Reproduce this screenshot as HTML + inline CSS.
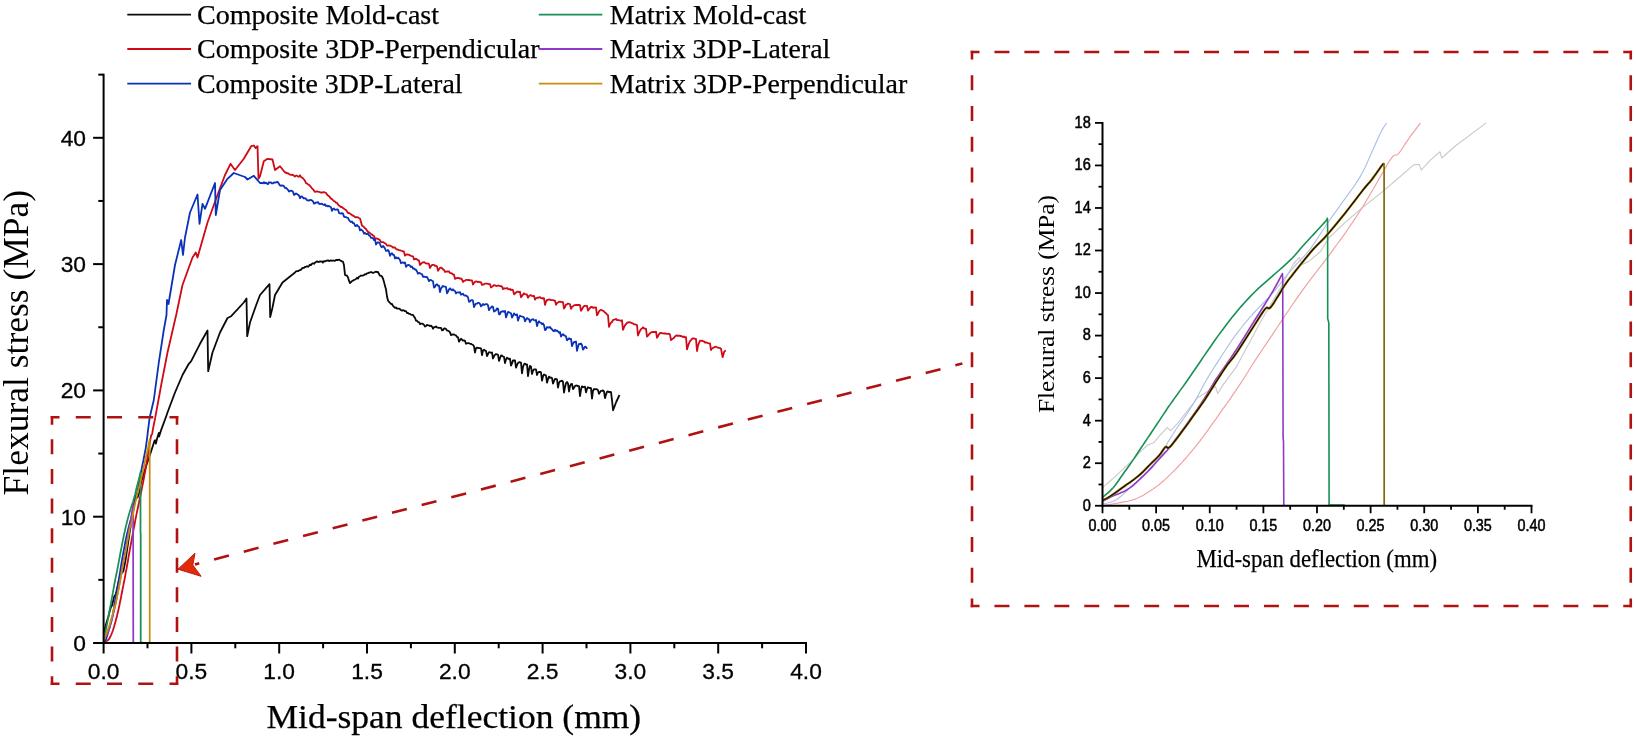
<!DOCTYPE html>
<html lang="en">
<head>
<meta charset="utf-8">
<title>Flexural stress vs mid-span deflection</title>
<style>
html,body{margin:0;padding:0;background:#fff;}
body{width:1636px;height:741px;overflow:hidden;}
svg{display:block;filter:blur(0.4px);}
text{fill:#000;}
</style>
</head>
<body>
<svg width="1636" height="741" viewBox="0 0 1636 741">
<rect x="0" y="0" width="1636" height="741" fill="#ffffff"/>
<g id="main-curves"><polyline points="103.6,632.6 103.8,631.6 105.4,626.7 106.1,624.1 108.4,616.5 109.9,610.5 111.1,606.8 112.0,605.6 112.9,601.8 114.2,596.6 115.8,594.2 119.1,579.1 122.1,572.3 123.3,571.5 125.5,560.4 129.7,532.2 132.6,514.8 134.8,499.8 135.8,495.5 137.5,497.6 139.3,492.2 140.7,483.7 143.3,475.0 146.2,465.8 149.2,457.2 152.2,448.0 154.6,440.4 155.5,440.4 155.8,443.7 157.3,437.8 158.9,432.8 159.1,436.5 161.3,429.6 166.4,415.7 167.5,412.5 175.0,392.5 182.5,375.0 188.8,363.8 191.2,361.2 200.0,343.8 207.5,330.5 208.2,371.2 212.5,352.5 220.0,332.5 227.5,318.0 231.2,316.2 243.8,302.5 246.5,298.5 247.2,336.2 250.0,322.5 256.2,305.0 260.0,295.0 269.5,284.2 270.2,317.0 272.5,307.5 275.0,295.0 282.5,282.5 295.0,272.5 296.0,271.4 297.0,271.1 298.0,271.1 299.0,270.6 300.0,270.0 301.0,269.8 302.0,268.4 303.0,267.9 304.0,267.8 305.0,267.0 306.0,266.8 307.0,266.2 308.0,266.8 309.0,265.9 310.0,264.7 311.0,265.1 312.0,263.8 313.0,263.2 314.0,263.8 315.0,262.7 316.0,261.9 317.0,261.3 318.0,262.0 319.0,261.8 320.0,261.4 321.0,261.6 322.0,261.3 323.0,262.6 324.0,261.1 325.0,261.3 326.0,260.9 327.0,260.6 328.0,260.3 329.0,261.1 330.0,260.6 331.0,260.4 332.0,260.8 333.0,260.5 334.0,260.6 335.0,260.8 336.0,259.9 337.0,260.0 338.0,260.0 339.0,259.6 340.0,260.3 341.0,260.9 342.0,261.3 343.0,261.8 344.0,265.3 345.0,274.9 346.0,275.3 347.0,275.7 348.0,277.4 349.0,280.7 350.0,283.1 351.0,282.2 352.0,281.0 353.0,280.7 354.0,279.9 355.0,279.7 356.0,278.8 357.0,277.8 358.0,278.6 359.0,276.7 360.0,276.2 361.0,275.6 362.0,275.7 363.0,275.5 364.0,275.1 365.0,274.2 366.0,274.3 367.0,273.4 368.0,273.1 369.0,272.6 370.0,272.6 371.0,272.0 372.0,272.4 373.0,273.0 374.0,272.5 375.0,272.0 376.0,271.7 377.0,272.1 378.0,272.0 379.0,274.1 380.0,275.7 381.0,275.8 382.0,276.5 383.0,278.6 384.0,281.9 385.0,286.1 386.0,289.3 387.0,296.5 388.0,300.5 389.0,301.9 390.0,302.9 391.0,304.0 392.0,304.0 393.0,305.9 394.0,307.0 395.0,307.9 396.0,307.5 397.0,308.5 398.0,308.6 399.0,308.7 400.0,309.1 401.0,310.2 402.0,310.7 403.0,310.1 404.0,310.5 405.0,311.2 406.0,311.2 407.0,313.1 408.0,313.0 409.0,313.9 410.0,313.8 411.0,314.7 412.0,314.9 413.0,315.0 414.0,316.6 415.0,317.8 416.0,320.7 417.0,320.7 418.0,322.1 419.0,322.1 420.0,324.1 421.0,323.6 422.0,323.6 423.0,324.0 424.0,324.9 425.0,326.6 426.0,326.0 427.0,324.8 428.0,325.3 429.0,325.4 430.0,326.1 431.0,325.7 432.0,326.7 433.0,328.7 434.0,327.2 435.0,327.1 436.0,326.4 437.0,327.5 438.0,327.6 439.0,327.9 440.0,327.9 441.0,327.8 442.0,330.4 443.0,330.2 444.0,328.4 445.0,328.4 446.0,329.1 447.0,330.5 448.0,330.7 449.0,331.2 450.0,332.4 451.0,335.1 452.0,334.7 453.0,334.5 454.0,334.4 455.0,335.0 456.0,335.4 457.0,336.9 458.0,337.3 459.0,341.7 460.0,340.1 461.0,338.8 462.0,339.6 463.0,340.7 464.0,340.4 465.0,340.9 466.0,343.8 467.0,343.3 468.0,343.1 469.0,343.2 470.0,343.8 471.0,343.8 472.0,344.5 473.0,344.9 474.0,346.3 475.0,352.5 476.0,348.2 477.0,347.6 478.0,347.8 479.0,348.1 480.0,348.2 481.0,348.3 482.0,355.2 483.0,350.5 484.0,349.7 485.0,350.6 486.0,350.9 487.0,356.1 488.0,354.0 489.0,352.1 490.0,352.3 491.0,352.8 492.0,352.5 493.0,358.5 494.0,356.3 495.0,354.7 496.0,354.1 497.0,354.3 498.0,354.8 499.0,360.9 500.0,358.1 501.0,355.5 502.0,355.7 503.0,356.5 504.0,356.9 505.0,363.1 506.0,359.5 507.0,357.7 508.0,358.4 509.0,359.1 510.0,358.6 511.0,365.7 512.0,363.5 513.0,360.4 514.0,360.5 515.0,360.3 516.0,367.6 517.0,365.1 518.0,362.9 519.0,362.2 520.0,362.3 521.0,362.7 522.0,373.4 523.0,367.0 524.0,364.2 525.0,363.6 526.0,364.6 527.0,364.3 528.0,376.1 529.0,369.6 530.0,365.8 531.0,366.7 532.0,374.0 533.0,370.7 534.0,369.3 535.0,369.3 536.0,369.3 537.0,375.0 538.0,372.6 539.0,372.0 540.0,371.9 541.0,372.3 542.0,380.7 543.0,376.3 544.0,374.5 545.0,374.9 546.0,375.5 547.0,382.7 548.0,379.2 549.0,376.7 550.0,377.9 551.0,377.5 552.0,378.0 553.0,383.7 554.0,381.2 555.0,378.9 556.0,379.0 557.0,379.4 558.0,387.6 559.0,382.9 560.0,381.2 561.0,381.2 562.0,380.6 563.0,381.8 564.0,392.7 565.0,387.3 566.0,383.1 567.0,382.0 568.0,383.4 569.0,391.5 570.0,386.0 571.0,384.1 572.0,383.9 573.0,389.2 574.0,387.8 575.0,386.0 576.0,385.5 577.0,385.6 578.0,386.1 579.0,386.1 580.0,396.1 581.0,389.5 582.0,386.3 583.0,387.1 584.0,386.9 585.0,386.7 586.0,392.4 587.0,388.9 588.0,387.2 589.0,387.8 590.0,388.0 591.0,388.2 592.0,398.6 593.0,390.7 594.0,389.0 595.0,389.4 596.0,389.0 597.0,389.3 598.0,390.2 599.0,393.8 600.0,392.2 601.0,390.8 602.0,390.9 603.0,390.4 604.0,391.4 605.0,398.2 606.0,394.6 607.0,391.9 608.0,391.4 609.0,392.2 610.0,391.8 611.0,392.2 612.0,400.2 613.1,410.3 616.2,402.0 619.5,395.0" fill="none" stroke="#0a0a0a" stroke-width="1.8" stroke-linejoin="round" stroke-linecap="butt" />
<polyline points="103.6,643.0 103.9,642.8 104.3,642.6 104.8,642.2 105.4,641.9 106.1,641.4 106.9,640.9 107.7,640.3 108.4,639.7 108.9,639.2 109.2,638.7 109.5,638.2 109.9,637.6 110.2,636.8 110.6,636.0 111.0,635.2 111.4,634.3 111.7,633.4 112.1,632.5 112.5,631.5 112.9,630.5 113.2,629.4 113.6,628.2 114.0,627.0 114.3,625.7 114.7,624.4 115.1,623.1 115.5,621.7 115.8,620.3 116.2,618.8 116.6,617.4 117.0,615.9 117.3,614.3 117.7,612.8 118.1,611.2 118.5,609.6 118.8,607.9 119.2,606.2 119.6,604.4 119.9,602.6 120.3,600.8 120.7,599.0 121.1,597.1 121.4,595.1 121.8,593.2 122.2,591.3 122.5,589.4 122.9,587.6 123.3,585.7 123.6,583.8 124.0,582.0 124.4,580.1 124.8,578.1 125.2,575.8 125.6,573.4 126.1,570.9 126.6,568.4 127.0,565.8 127.5,563.1 128.0,560.3 128.5,557.1 129.2,553.4 129.9,549.3 130.7,545.1 131.5,540.9 132.2,536.9 133.0,532.7 133.7,528.7 134.5,524.7 135.2,520.8 136.0,516.9 136.7,513.2 137.5,509.5 138.3,505.8 139.1,502.0 139.8,498.5 140.5,495.5 140.9,493.2 141.3,491.4 141.6,489.8 141.9,488.2 142.2,486.7 142.5,485.4 142.8,483.9 143.3,481.6 143.9,478.2 144.6,474.2 145.5,469.7 146.2,465.3 147.0,460.6 147.8,455.5 148.6,450.8 149.2,446.9 149.7,444.1 149.9,442.2 150.2,440.7 150.4,439.3 150.7,437.9 150.9,436.7 151.1,435.7 151.3,435.0 151.5,434.7 151.6,434.8 151.8,434.7 152.1,434.0 152.4,432.4 152.8,430.2 153.2,427.7 153.7,425.3 154.2,422.7 154.8,419.9 155.3,417.4 155.6,415.7 161.2,385.0 167.5,352.5 175.0,320.0 176.2,315.0 182.5,285.0 192.5,257.5 195.8,252.5 197.5,257.5 207.5,222.5 217.5,195.0 225.0,175.0 230.5,163.8 235.0,170.0 237.0,167.5 243.8,158.8 251.2,146.2 253.8,145.5 255.5,148.0 257.5,146.2 258.5,178.8 260.0,176.2 263.8,161.2 267.5,158.8 272.5,159.5 275.0,170.0 280.0,166.2 285.0,172.5 286.0,172.5 287.0,173.4 288.0,173.2 289.0,174.0 290.0,174.6 291.0,174.9 292.0,174.7 293.0,175.1 294.0,175.8 295.0,176.6 296.0,175.7 297.0,175.7 298.0,176.6 299.0,176.7 300.0,175.3 301.0,177.1 302.0,177.5 303.0,178.4 304.0,179.5 305.0,180.8 306.0,183.2 307.0,183.5 308.0,184.4 309.0,184.8 310.0,185.8 311.0,187.0 312.0,188.4 313.0,189.2 314.0,190.7 315.0,191.9 316.0,191.7 317.0,191.3 318.0,191.7 319.0,191.8 320.0,192.3 321.0,192.5 322.0,192.5 323.0,192.6 324.0,192.0 325.0,192.5 326.0,192.9 327.0,194.5 328.0,195.5 329.0,196.2 330.0,197.4 331.0,198.6 332.0,199.1 333.0,200.2 334.0,201.1 335.0,201.5 336.0,202.6 337.0,202.9 338.0,204.4 339.0,205.6 340.0,206.2 341.0,207.0 342.0,207.0 343.0,208.1 344.0,208.6 345.0,209.4 346.0,210.1 347.0,211.6 348.0,213.0 349.0,212.8 350.0,213.7 351.0,214.3 352.0,215.1 353.0,215.6 354.0,216.1 355.0,217.2 356.0,217.5 357.0,217.0 358.0,217.4 359.0,218.0 360.0,218.5 361.0,221.9 362.0,225.7 363.0,226.2 364.0,227.1 365.0,228.3 366.0,229.0 367.0,230.6 368.0,231.9 369.0,232.3 370.0,233.1 371.0,234.0 372.0,234.5 373.0,235.5 374.0,236.1 375.0,238.5 376.0,238.3 377.0,238.6 378.0,238.9 379.0,239.4 380.0,240.2 381.0,242.2 382.0,242.2 383.0,242.1 384.0,242.7 385.0,243.3 386.0,244.0 387.0,245.4 388.0,245.7 389.0,245.4 390.0,245.7 391.0,246.2 392.0,246.6 393.0,247.5 394.0,247.3 395.0,247.5 396.0,248.9 397.0,249.5 398.0,249.7 399.0,250.1 400.0,250.4 401.0,250.7 402.0,250.8 403.0,251.4 404.0,251.7 405.0,255.7 406.0,254.6 407.0,254.5 408.0,254.5 409.0,254.9 410.0,255.3 411.0,255.8 412.0,256.2 413.0,256.3 414.0,259.5 415.0,259.1 416.0,258.7 417.0,259.4 418.0,260.4 419.0,260.5 420.0,265.0 421.0,263.7 422.0,262.9 423.0,262.3 424.0,262.1 425.0,262.8 426.0,263.4 427.0,263.6 428.0,263.5 429.0,264.0 430.0,268.0 431.0,266.1 432.0,265.0 433.0,264.9 434.0,264.9 435.0,265.8 436.0,265.7 437.0,266.4 438.0,270.9 439.0,269.2 440.0,267.8 441.0,267.6 442.0,268.2 443.0,269.4 444.0,269.8 445.0,272.0 446.0,271.5 447.0,271.6 448.0,271.3 449.0,271.5 450.0,273.0 451.0,273.1 452.0,273.5 453.0,274.5 454.0,274.7 455.0,278.8 456.0,278.4 457.0,278.0 458.0,278.2 459.0,278.0 460.0,278.7 461.0,278.5 462.0,279.5 463.0,282.0 464.0,280.8 465.0,280.7 466.0,279.9 467.0,279.9 468.0,280.1 469.0,279.8 470.0,280.4 471.0,280.3 472.0,280.3 473.0,284.6 474.0,283.0 475.0,281.7 476.0,281.5 477.0,281.7 478.0,282.1 479.0,281.7 480.0,282.3 481.0,282.2 482.0,284.9 483.0,284.6 484.0,284.3 485.0,283.6 486.0,283.6 487.0,283.7 488.0,283.9 489.0,284.2 490.0,284.2 491.0,287.5 492.0,286.7 493.0,286.1 494.0,285.0 495.0,285.3 496.0,285.9 497.0,286.0 498.0,285.5 499.0,285.7 500.0,286.2 501.0,286.1 502.0,286.6 503.0,289.2 504.0,288.2 505.0,288.6 506.0,288.4 507.0,288.0 508.0,289.0 509.0,289.4 510.0,289.0 511.0,290.0 512.0,289.7 513.0,290.1 514.0,294.4 515.0,293.5 516.0,292.5 517.0,291.8 518.0,291.6 519.0,292.2 520.0,291.8 521.0,297.3 522.0,295.9 523.0,294.6 524.0,293.3 525.0,294.2 526.0,294.3 527.0,294.7 528.0,297.7 529.0,296.1 530.0,295.3 531.0,295.2 532.0,295.9 533.0,296.1 534.0,295.8 535.0,299.6 536.0,298.3 537.0,297.7 538.0,297.9 539.0,297.4 540.0,297.1 541.0,298.2 542.0,298.1 543.0,298.6 544.0,298.1 545.0,304.9 546.0,301.8 547.0,300.0 548.0,299.9 549.0,299.5 550.0,299.6 551.0,300.2 552.0,300.1 553.0,300.2 554.0,300.5 555.0,300.6 556.0,304.8 557.0,303.1 558.0,302.4 559.0,301.6 560.0,301.8 561.0,301.7 562.0,302.2 563.0,302.1 564.0,308.5 565.0,307.0 566.0,304.7 567.0,304.3 568.0,303.5 569.0,303.8 570.0,304.3 571.0,308.9 572.0,306.8 573.0,306.2 574.0,305.4 575.0,305.1 576.0,305.0 577.0,305.0 578.0,304.9 579.0,305.0 580.0,305.1 581.0,310.9 582.0,309.2 583.0,307.4 584.0,306.1 585.0,305.8 586.0,305.8 587.0,306.0 588.0,310.6 589.0,309.3 590.0,308.0 591.0,307.0 592.0,306.9 593.0,307.8 594.0,307.4 595.0,307.6 596.0,307.5 597.0,315.4 598.0,313.7 599.0,311.5 600.0,310.3 601.0,309.8 602.0,310.3 603.0,310.7 604.0,311.5 605.0,312.6 606.0,313.3 607.0,314.4 608.0,315.2 609.0,326.8 610.0,324.4 611.0,322.7 612.0,322.0 613.0,320.0 614.0,319.7 615.0,319.4 616.0,319.0 617.0,320.0 618.0,320.2 619.0,320.2 620.0,320.5 621.0,320.8 622.0,320.3 623.0,329.8 624.0,327.5 625.0,325.3 626.0,324.1 627.0,322.9 628.0,322.4 629.0,322.2 630.0,322.3 631.0,322.7 632.0,323.2 633.0,323.3 634.0,324.3 635.0,324.3 636.0,324.7 637.0,325.0 638.0,335.5 639.0,333.0 640.0,330.8 641.0,329.2 642.0,328.3 643.0,327.3 644.0,328.5 645.0,328.5 646.0,328.8 647.0,336.6 648.0,335.7 649.0,334.2 650.0,333.3 651.0,332.5 652.0,332.1 653.0,332.0 654.0,332.0 655.0,332.1 656.0,331.7 657.0,337.8 658.0,336.2 659.0,334.2 660.0,333.2 661.0,332.8 662.0,333.2 663.0,333.4 664.0,333.5 665.0,333.3 666.0,333.7 667.0,333.8 668.0,333.9 669.0,333.7 670.0,334.6 671.0,340.0 672.0,339.2 673.0,338.5 674.0,337.7 675.0,336.4 676.0,335.7 677.0,335.3 678.0,336.0 679.0,335.5 680.0,336.1 681.0,335.8 682.0,336.4 683.0,337.1 684.0,336.4 685.0,337.3 686.0,337.2 687.0,349.4 688.0,346.2 689.0,343.3 690.0,341.2 691.0,340.1 692.0,338.9 693.0,338.4 694.0,338.4 695.0,338.8 696.0,339.0 697.0,351.0 698.0,345.7 699.0,343.0 700.0,340.7 701.0,340.8 702.0,340.6 703.0,341.1 704.0,341.5 705.0,342.5 706.0,342.5 707.0,342.7 708.0,343.1 709.0,343.4 710.0,343.5 711.0,350.1 712.0,348.6 713.0,347.9 714.0,347.5 715.0,346.8 716.0,346.7 717.0,347.3 718.0,347.6 719.0,347.9 720.0,348.1 721.0,348.8 722.6,357.2 724.3,351.5 725.8,350.4" fill="none" stroke="#cf0a16" stroke-width="1.8" stroke-linejoin="round" stroke-linecap="butt" />
<polyline points="103.6,641.9 103.9,641.6 104.4,641.3 104.9,640.9 105.4,640.3 105.8,639.6 106.2,638.7 106.5,637.7 106.9,636.6 107.3,635.4 107.6,634.0 108.0,632.7 108.4,631.4 108.7,630.1 109.1,628.9 109.5,627.7 109.9,626.5 110.2,625.2 110.6,623.8 111.0,622.5 111.4,621.0 111.7,619.5 112.1,617.9 112.5,616.3 112.9,614.7 113.2,613.1 113.4,611.4 113.7,609.8 113.9,608.4 114.0,607.5 114.1,606.9 114.2,606.2 114.3,605.1 114.6,603.3 115.0,601.1 115.4,598.7 115.8,596.5 116.2,594.6 116.6,592.7 117.0,590.9 117.3,588.9 117.7,586.9 118.1,584.9 118.4,582.7 118.8,580.2 119.2,577.5 119.7,574.5 120.2,571.4 120.6,568.4 121.1,565.6 121.5,563.0 122.0,560.3 122.5,557.1 123.2,553.3 124.0,549.1 124.8,544.9 125.5,540.9 126.3,537.4 127.0,534.1 127.8,531.0 128.5,527.9 129.3,525.0 130.0,522.3 130.8,519.5 131.5,516.6 132.2,513.3 133.0,509.8 133.7,506.4 134.5,503.1 135.2,500.1 136.0,497.2 136.7,494.3 137.5,491.2 138.2,487.7 138.9,483.9 139.6,480.0 140.3,476.2 141.0,472.2 141.8,468.1 142.6,464.3 143.3,461.0 143.7,458.6 144.1,456.8 144.4,455.2 144.7,453.4 145.1,451.4 145.5,449.3 145.9,447.1 146.2,444.7 146.6,442.0 147.0,439.0 147.4,435.9 147.7,432.8 148.1,429.7 148.5,426.5 148.9,423.5 149.2,421.0 149.5,419.1 149.8,417.6 150.0,416.5 150.1,415.7 153.8,400.0 158.8,362.5 163.8,330.0 166.5,315.0 167.0,300.0 168.5,304.0 175.0,265.0 181.2,240.0 183.0,255.0 185.0,237.5 190.0,212.5 197.5,194.5 199.5,223.8 202.5,203.8 205.0,208.8 215.0,183.0 215.8,215.0 220.0,190.0 227.5,178.8 233.8,173.0 245.0,177.0 247.5,179.5 253.8,175.8 260.0,183.0 262.0,183.0 263.0,183.3 264.0,182.1 265.0,183.3 266.0,182.7 267.0,183.7 268.0,184.2 269.0,182.2 270.0,182.7 271.0,182.4 272.0,183.4 273.0,183.4 274.0,182.4 275.0,182.7 276.0,182.4 277.0,181.9 278.0,182.3 279.0,184.0 280.0,185.4 281.0,185.8 282.0,185.4 283.0,185.6 284.0,186.3 285.0,187.9 286.0,188.0 287.0,188.8 288.0,189.9 289.0,191.6 290.0,190.8 291.0,190.7 292.0,190.8 293.0,191.8 294.0,194.9 295.0,194.4 296.0,193.4 297.0,194.1 298.0,194.7 299.0,195.5 300.0,198.2 301.0,196.5 302.0,196.5 303.0,197.8 304.0,198.5 305.0,198.2 306.0,198.8 307.0,200.3 308.0,200.3 309.0,200.7 310.0,199.8 311.0,200.0 312.0,200.5 313.0,201.4 314.0,203.5 315.0,203.3 316.0,202.5 317.0,202.7 318.0,202.1 319.0,203.7 320.0,204.2 321.0,203.7 322.0,203.8 323.0,204.6 324.0,205.0 325.0,204.3 326.0,206.0 327.0,205.7 328.0,206.4 329.0,205.8 330.0,206.7 331.0,207.3 332.0,210.9 333.0,209.1 334.0,208.4 335.0,209.8 336.0,209.7 337.0,209.5 338.0,209.6 339.0,213.0 340.0,213.3 341.0,213.7 342.0,213.1 343.0,213.6 344.0,216.6 345.0,217.2 346.0,217.2 347.0,217.6 348.0,217.9 349.0,220.0 350.0,221.3 351.0,222.1 352.0,221.5 353.0,223.2 354.0,223.2 355.0,225.8 356.0,226.0 357.0,225.0 358.0,226.2 359.0,226.7 360.0,230.4 361.0,229.4 362.0,230.3 363.0,231.1 364.0,233.6 365.0,232.9 366.0,234.0 367.0,234.0 368.0,233.6 369.0,235.5 370.0,235.8 371.0,237.9 372.0,237.9 373.0,238.1 374.0,240.0 375.0,239.4 376.0,244.5 377.0,243.0 378.0,242.3 379.0,242.4 380.0,244.0 381.0,246.5 382.0,247.3 383.0,245.9 384.0,247.0 385.0,248.5 386.0,250.8 387.0,250.9 388.0,250.0 389.0,251.6 390.0,255.8 391.0,254.0 392.0,253.2 393.0,254.8 394.0,254.9 395.0,258.5 396.0,257.3 397.0,258.4 398.0,257.6 399.0,258.7 400.0,260.0 401.0,263.3 402.0,262.7 403.0,262.3 404.0,263.1 405.0,262.5 406.0,266.9 407.0,265.7 408.0,264.8 409.0,265.1 410.0,265.8 411.0,267.1 412.0,266.5 413.0,268.7 414.0,268.5 415.0,269.5 416.0,269.7 417.0,271.5 418.0,273.7 419.0,272.9 420.0,273.3 421.0,273.8 422.0,274.1 423.0,276.8 424.0,276.6 425.0,276.9 426.0,277.2 427.0,277.0 428.0,278.9 429.0,281.2 430.0,280.0 431.0,280.1 432.0,280.7 433.0,281.3 434.0,287.7 435.0,286.8 436.0,284.8 437.0,284.2 438.0,285.7 439.0,285.7 440.0,292.0 441.0,288.6 442.0,287.1 443.0,285.9 444.0,286.6 445.0,286.6 446.0,287.0 447.0,293.3 448.0,291.7 449.0,289.3 450.0,288.3 451.0,289.6 452.0,290.3 453.0,289.3 454.0,290.5 455.0,291.0 456.0,293.5 457.0,292.4 458.0,292.4 459.0,292.6 460.0,292.2 461.0,294.7 462.0,294.2 463.0,293.7 464.0,295.3 465.0,295.6 466.0,295.5 467.0,296.2 468.0,297.4 469.0,301.8 470.0,301.5 471.0,300.3 472.0,300.0 473.0,300.8 474.0,307.1 475.0,304.8 476.0,303.7 477.0,303.7 478.0,302.9 479.0,302.8 480.0,303.9 481.0,306.4 482.0,305.3 483.0,303.9 484.0,305.0 485.0,304.4 486.0,304.1 487.0,304.1 488.0,305.3 489.0,310.2 490.0,308.4 491.0,307.6 492.0,306.4 493.0,306.8 494.0,311.6 495.0,310.9 496.0,310.3 497.0,308.5 498.0,308.6 499.0,314.4 500.0,314.1 501.0,311.7 502.0,311.7 503.0,311.1 504.0,311.8 505.0,310.9 506.0,317.4 507.0,314.6 508.0,312.0 509.0,312.2 510.0,312.8 511.0,313.3 512.0,317.5 513.0,315.8 514.0,313.4 515.0,314.6 516.0,315.2 517.0,314.3 518.0,320.6 519.0,317.7 520.0,315.7 521.0,316.2 522.0,316.7 523.0,316.8 524.0,317.5 525.0,321.4 526.0,319.5 527.0,318.1 528.0,318.8 529.0,319.2 530.0,322.1 531.0,320.1 532.0,319.6 533.0,319.2 534.0,320.1 535.0,320.5 536.0,320.0 537.0,326.0 538.0,323.0 539.0,321.2 540.0,322.5 541.0,322.8 542.0,324.3 543.0,323.4 544.0,325.1 545.0,330.2 546.0,329.5 547.0,327.2 548.0,327.4 549.0,327.7 550.0,326.9 551.0,328.5 552.0,329.2 553.0,330.7 554.0,331.2 555.0,329.8 556.0,331.0 557.0,330.4 558.0,331.5 559.0,332.7 560.0,332.0 561.0,336.5 562.0,335.1 563.0,334.1 564.0,335.4 565.0,335.6 566.0,336.5 567.0,340.3 568.0,339.4 569.0,338.3 570.0,339.0 571.0,338.9 572.0,346.2 573.0,343.7 574.0,342.0 575.0,342.0 576.0,341.4 577.0,350.8 578.0,346.8 579.0,344.0 580.0,344.2 581.0,343.5 582.0,345.3 583.0,349.6 584.0,348.3 585.0,346.7 586.0,347.0 587.2,348.8" fill="none" stroke="#0a32b8" stroke-width="1.8" stroke-linejoin="round" stroke-linecap="butt" />
<polyline points="103.6,638.1 103.9,637.0 104.4,635.6 104.9,633.9 105.4,632.1 105.8,630.4 106.2,628.5 106.5,626.5 106.9,624.6 107.3,622.7 107.6,620.8 108.0,618.9 108.4,617.0 108.7,615.0 109.1,613.0 109.5,610.9 109.9,608.9 110.2,606.9 110.6,604.9 111.0,602.8 111.4,600.8 111.7,598.8 112.1,596.8 112.5,594.8 112.9,592.7 113.2,590.7 113.6,588.6 114.0,586.5 114.3,584.5 114.7,582.6 115.1,580.8 115.4,578.9 115.8,576.9 116.3,574.8 116.7,572.6 117.2,570.2 117.6,567.9 118.1,565.5 118.5,563.1 119.0,560.6 119.6,557.6 120.2,554.0 121.0,550.0 121.8,545.9 122.5,542.0 123.3,538.3 124.0,534.7 124.8,531.3 125.5,527.9 126.3,524.8 127.0,521.7 127.8,518.8 128.5,516.1 129.3,513.5 130.0,511.1 130.8,508.7 131.5,506.3 132.3,503.9 133.1,501.4 133.8,499.0 134.5,496.6 135.1,494.4 135.6,492.3 136.0,490.3 136.5,488.2 137.1,485.9 137.7,483.6 138.3,481.4 138.8,479.4 139.2,477.8 139.6,476.3 139.9,475.0 140.1,474.0 140.3,473.3 140.4,472.8 140.4,472.5 140.4,472.2 140.5,475.0 140.5,531.9 140.7,534.4 140.7,642.4 143.3,642.6" fill="none" stroke="#179054" stroke-width="1.75" stroke-linejoin="round" stroke-linecap="butt" />
<polyline points="103.6,640.3 103.9,639.7 104.4,638.8 104.9,637.9 105.4,637.1 105.8,636.5 106.2,636.0 106.5,635.5 106.9,634.9 107.3,634.2 107.6,633.4 108.0,632.6 108.4,631.6 108.7,630.5 109.1,629.3 109.5,628.0 109.9,626.7 110.2,625.4 110.6,624.1 111.0,622.8 111.4,621.4 111.7,619.9 112.1,618.4 112.5,616.9 112.9,615.3 113.2,613.8 113.6,612.2 114.0,610.7 114.3,609.4 114.5,608.6 114.7,608.0 114.8,607.3 115.1,606.0 115.5,603.9 116.1,601.2 116.7,598.2 117.3,594.9 118.1,591.1 118.9,587.0 119.6,582.8 120.3,579.1 120.8,576.0 121.3,573.4 121.7,570.9 122.1,568.4 122.6,565.7 123.1,563.1 123.6,560.6 124.0,558.3 124.4,556.3 124.7,554.7 125.1,552.8 125.5,550.2 126.2,546.5 126.9,542.1 127.7,537.4 128.5,532.9 129.3,528.4 130.1,523.8 130.9,519.4 131.5,515.6 132.0,512.2 132.5,509.2 132.8,506.8 133.0,505.1 133.1,507.9 133.2,602.6 133.2,605.1 133.3,643.0" fill="none" stroke="#9038c8" stroke-width="1.75" stroke-linejoin="round" stroke-linecap="butt" />
<polyline points="103.6,639.7 103.8,639.4 104.1,639.0 104.4,638.4 104.8,637.6 105.3,636.4 105.8,635.0 106.4,633.5 106.9,632.1 107.3,631.1 107.7,630.2 108.0,629.3 108.4,628.3 108.7,627.3 109.1,626.3 109.5,625.2 109.9,624.1 110.2,622.8 110.6,621.4 111.0,620.0 111.4,618.6 111.7,617.3 112.1,615.9 112.5,614.5 112.9,613.2 113.2,611.8 113.4,610.3 113.7,609.0 113.9,608.1 114.0,607.9 114.1,608.2 114.2,608.6 114.3,608.6 114.5,608.4 114.6,608.2 114.8,607.5 115.1,606.2 115.6,604.0 116.2,601.1 116.8,598.1 117.3,595.4 117.8,593.3 118.1,591.4 118.5,589.6 118.8,587.8 119.2,586.0 119.5,584.3 119.9,582.4 120.3,580.2 120.8,577.5 121.3,574.4 121.9,571.2 122.4,568.4 122.8,565.9 123.3,563.6 123.6,561.4 124.0,559.4 124.4,557.7 124.7,556.3 125.1,554.7 125.5,552.3 126.2,548.6 127.0,544.1 127.8,539.4 128.5,535.5 129.1,532.4 129.6,529.6 130.0,527.4 130.3,525.8 130.6,525.2 130.7,525.5 130.8,525.9 131.0,525.5 131.4,524.2 131.7,522.2 132.1,520.1 132.4,518.2 132.6,516.7 132.9,515.4 133.1,514.1 133.3,512.8 133.5,511.5 133.8,510.3 134.1,508.9 134.5,506.8 135.1,503.8 136.0,500.0 136.8,496.3 137.5,493.3 137.9,491.5 138.2,490.2 138.5,489.3 138.8,488.2 139.1,487.0 139.4,485.9 139.8,484.5 140.3,482.6 140.9,479.9 141.7,476.6 142.5,473.1 143.3,469.6 144.0,466.0 144.8,462.2 145.6,458.6 146.2,455.6 146.7,453.5 147.1,451.9 147.4,450.6 147.7,449.1 148.1,447.2 148.5,445.1 148.9,443.1 149.2,441.6 149.4,440.6 149.5,440.1 149.6,439.8 149.7,439.5 149.7,442.2 149.7,643.0" fill="none" stroke="#c88e0a" stroke-width="1.75" stroke-linejoin="round" stroke-linecap="butt" /></g>
<g id="main-axes"><line x1="103.60" y1="73.65" x2="103.60" y2="644.00" stroke="#000" stroke-width="2" />
<line x1="102.60" y1="643.00" x2="807.00" y2="643.00" stroke="#000" stroke-width="2" />
<line x1="93.10" y1="643.00" x2="103.60" y2="643.00" stroke="#000" stroke-width="2" />
<text x="86.00" y="651.00" font-size="22.8" font-family="'Liberation Sans', Arial, sans-serif" text-anchor="end" stroke="#000" stroke-width="0.3">0</text>
<line x1="98.30" y1="579.85" x2="103.60" y2="579.85" stroke="#000" stroke-width="2" />
<line x1="93.10" y1="516.70" x2="103.60" y2="516.70" stroke="#000" stroke-width="2" />
<text x="86.00" y="524.70" font-size="22.8" font-family="'Liberation Sans', Arial, sans-serif" text-anchor="end" stroke="#000" stroke-width="0.3">10</text>
<line x1="98.30" y1="453.55" x2="103.60" y2="453.55" stroke="#000" stroke-width="2" />
<line x1="93.10" y1="390.40" x2="103.60" y2="390.40" stroke="#000" stroke-width="2" />
<text x="86.00" y="398.40" font-size="22.8" font-family="'Liberation Sans', Arial, sans-serif" text-anchor="end" stroke="#000" stroke-width="0.3">20</text>
<line x1="98.30" y1="327.25" x2="103.60" y2="327.25" stroke="#000" stroke-width="2" />
<line x1="93.10" y1="264.10" x2="103.60" y2="264.10" stroke="#000" stroke-width="2" />
<text x="86.00" y="272.10" font-size="22.8" font-family="'Liberation Sans', Arial, sans-serif" text-anchor="end" stroke="#000" stroke-width="0.3">30</text>
<line x1="98.30" y1="200.95" x2="103.60" y2="200.95" stroke="#000" stroke-width="2" />
<line x1="93.10" y1="137.80" x2="103.60" y2="137.80" stroke="#000" stroke-width="2" />
<text x="86.00" y="145.80" font-size="22.8" font-family="'Liberation Sans', Arial, sans-serif" text-anchor="end" stroke="#000" stroke-width="0.3">40</text>
<line x1="98.30" y1="74.65" x2="103.60" y2="74.65" stroke="#000" stroke-width="2" />
<line x1="103.60" y1="643.00" x2="103.60" y2="653.50" stroke="#000" stroke-width="2" />
<text x="103.60" y="679.20" font-size="22.8" font-family="'Liberation Sans', Arial, sans-serif" text-anchor="middle" stroke="#000" stroke-width="0.3">0.0</text>
<line x1="147.50" y1="643.00" x2="147.50" y2="648.30" stroke="#000" stroke-width="2" />
<line x1="191.40" y1="643.00" x2="191.40" y2="653.50" stroke="#000" stroke-width="2" />
<text x="191.40" y="679.20" font-size="22.8" font-family="'Liberation Sans', Arial, sans-serif" text-anchor="middle" stroke="#000" stroke-width="0.3">0.5</text>
<line x1="235.30" y1="643.00" x2="235.30" y2="648.30" stroke="#000" stroke-width="2" />
<line x1="279.20" y1="643.00" x2="279.20" y2="653.50" stroke="#000" stroke-width="2" />
<text x="279.20" y="679.20" font-size="22.8" font-family="'Liberation Sans', Arial, sans-serif" text-anchor="middle" stroke="#000" stroke-width="0.3">1.0</text>
<line x1="323.10" y1="643.00" x2="323.10" y2="648.30" stroke="#000" stroke-width="2" />
<line x1="367.00" y1="643.00" x2="367.00" y2="653.50" stroke="#000" stroke-width="2" />
<text x="367.00" y="679.20" font-size="22.8" font-family="'Liberation Sans', Arial, sans-serif" text-anchor="middle" stroke="#000" stroke-width="0.3">1.5</text>
<line x1="410.90" y1="643.00" x2="410.90" y2="648.30" stroke="#000" stroke-width="2" />
<line x1="454.80" y1="643.00" x2="454.80" y2="653.50" stroke="#000" stroke-width="2" />
<text x="454.80" y="679.20" font-size="22.8" font-family="'Liberation Sans', Arial, sans-serif" text-anchor="middle" stroke="#000" stroke-width="0.3">2.0</text>
<line x1="498.70" y1="643.00" x2="498.70" y2="648.30" stroke="#000" stroke-width="2" />
<line x1="542.60" y1="643.00" x2="542.60" y2="653.50" stroke="#000" stroke-width="2" />
<text x="542.60" y="679.20" font-size="22.8" font-family="'Liberation Sans', Arial, sans-serif" text-anchor="middle" stroke="#000" stroke-width="0.3">2.5</text>
<line x1="586.50" y1="643.00" x2="586.50" y2="648.30" stroke="#000" stroke-width="2" />
<line x1="630.40" y1="643.00" x2="630.40" y2="653.50" stroke="#000" stroke-width="2" />
<text x="630.40" y="679.20" font-size="22.8" font-family="'Liberation Sans', Arial, sans-serif" text-anchor="middle" stroke="#000" stroke-width="0.3">3.0</text>
<line x1="674.30" y1="643.00" x2="674.30" y2="648.30" stroke="#000" stroke-width="2" />
<line x1="718.20" y1="643.00" x2="718.20" y2="653.50" stroke="#000" stroke-width="2" />
<text x="718.20" y="679.20" font-size="22.8" font-family="'Liberation Sans', Arial, sans-serif" text-anchor="middle" stroke="#000" stroke-width="0.3">3.5</text>
<line x1="762.10" y1="643.00" x2="762.10" y2="648.30" stroke="#000" stroke-width="2" />
<line x1="806.00" y1="643.00" x2="806.00" y2="653.50" stroke="#000" stroke-width="2" />
<text x="806.00" y="679.20" font-size="22.8" font-family="'Liberation Sans', Arial, sans-serif" text-anchor="middle" stroke="#000" stroke-width="0.3">4.0</text></g>
<text x="266.50" y="728.20" font-size="34.5" font-family="'Liberation Serif', 'Times New Roman', serif" text-anchor="start" textLength="374.7" lengthAdjust="spacingAndGlyphs" stroke="#000" stroke-width="0.25">Mid-span deflection (mm)</text>
<text transform="translate(27.6,495.4) rotate(-90)" font-size="35" font-family="'Liberation Serif', 'Times New Roman', serif" textLength="305.5" lengthAdjust="spacingAndGlyphs">Flexural stress (MPa)</text>
<g id="legend"><line x1="127.30" y1="14.70" x2="191.00" y2="14.70" stroke="#0a0a0a" stroke-width="1.8" />
<text x="197.00" y="24.00" font-size="28.3" font-family="'Liberation Serif', 'Times New Roman', serif" text-anchor="start" textLength="242" lengthAdjust="spacingAndGlyphs" stroke="#000" stroke-width="0.25">Composite Mold-cast</text>
<line x1="127.30" y1="49.00" x2="191.00" y2="49.00" stroke="#cf0a16" stroke-width="1.8" />
<text x="197.00" y="58.40" font-size="28.3" font-family="'Liberation Serif', 'Times New Roman', serif" text-anchor="start" textLength="342.5" lengthAdjust="spacingAndGlyphs" stroke="#000" stroke-width="0.25">Composite 3DP-Perpendicular</text>
<line x1="127.30" y1="83.60" x2="191.00" y2="83.60" stroke="#0a32b8" stroke-width="1.8" />
<text x="197.00" y="92.70" font-size="28.3" font-family="'Liberation Serif', 'Times New Roman', serif" text-anchor="start" textLength="265.5" lengthAdjust="spacingAndGlyphs" stroke="#000" stroke-width="0.25">Composite 3DP-Lateral</text>
<line x1="538.80" y1="14.70" x2="602.30" y2="14.70" stroke="#179054" stroke-width="1.8" />
<text x="609.80" y="24.00" font-size="28.3" font-family="'Liberation Serif', 'Times New Roman', serif" text-anchor="start" textLength="196.5" lengthAdjust="spacingAndGlyphs" stroke="#000" stroke-width="0.25">Matrix Mold-cast</text>
<line x1="538.80" y1="49.00" x2="602.30" y2="49.00" stroke="#9038c8" stroke-width="1.8" />
<text x="609.80" y="58.40" font-size="28.3" font-family="'Liberation Serif', 'Times New Roman', serif" text-anchor="start" textLength="220.5" lengthAdjust="spacingAndGlyphs" stroke="#000" stroke-width="0.25">Matrix 3DP-Lateral</text>
<line x1="538.80" y1="83.60" x2="602.30" y2="83.60" stroke="#c88e0a" stroke-width="1.8" />
<text x="609.80" y="92.70" font-size="28.3" font-family="'Liberation Serif', 'Times New Roman', serif" text-anchor="start" textLength="297.5" lengthAdjust="spacingAndGlyphs" stroke="#000" stroke-width="0.25">Matrix 3DP-Perpendicular</text></g>
<g id="inset"><polyline points="1102.5,488.3 1103.6,486.6 1113.4,478.3 1117.9,473.8 1131.7,461.1 1140.8,451.1 1148.1,444.7 1153.6,442.8 1159.0,436.4 1167.2,427.7 1170.8,430.7 1177.3,423.6 1197.3,398.1 1215.5,386.6 1217.7,393.7 1222.7,385.4 1236.5,366.6 1262.0,319.2 1279.5,289.9 1293.0,264.5 1299.3,257.3 1302.1,264.5 1309.4,260.9 1320.3,251.8 1329.2,237.5 1344.7,222.9 1362.9,207.3 1381.1,192.9 1399.4,177.3 1414.0,164.6 1419.4,164.6 1421.2,170.1 1430.4,160.1 1440.0,151.8 1441.7,158.0 1455.0,146.3 1486.2,122.9" fill="none" stroke="#cbcbcb" stroke-width="1.15" stroke-linejoin="round" stroke-linecap="butt" />
<polyline points="1102.5,505.8 1104.3,505.4 1106.8,505.0 1109.9,504.5 1113.4,503.8 1117.7,503.1 1122.7,502.1 1127.6,501.2 1131.7,500.2 1134.6,499.4 1136.8,498.5 1138.7,497.6 1140.8,496.6 1143.1,495.4 1145.3,494.0 1147.6,492.6 1149.9,491.1 1152.2,489.6 1154.5,488.0 1156.7,486.4 1159.0,484.7 1161.3,482.8 1163.6,480.8 1165.9,478.7 1168.1,476.6 1170.4,474.4 1172.7,472.2 1175.0,469.8 1177.3,467.5 1179.5,465.0 1181.8,462.6 1184.1,460.0 1186.4,457.5 1188.6,454.8 1190.9,452.2 1193.2,449.4 1195.5,446.6 1197.8,443.7 1200.0,440.8 1202.3,437.8 1204.6,434.7 1206.9,431.6 1209.2,428.4 1211.4,425.2 1213.7,421.9 1216.0,418.8 1218.2,415.6 1220.5,412.4 1222.7,409.2 1225.0,406.1 1227.2,403.0 1229.4,399.9 1231.8,396.4 1234.4,392.6 1237.1,388.6 1239.9,384.4 1242.8,380.0 1245.5,375.7 1248.3,371.3 1251.2,366.5 1254.7,361.1 1258.8,354.9 1263.4,348.0 1268.2,340.9 1272.9,333.9 1277.5,327.0 1282.0,320.1 1286.6,313.2 1291.2,306.5 1295.7,299.9 1300.3,293.4 1304.8,287.1 1309.4,280.9 1314.2,274.6 1319.1,268.3 1323.7,262.4 1327.6,257.3 1330.5,253.4 1332.7,250.4 1334.6,247.7 1336.5,245.0 1338.4,242.5 1340.0,240.4 1341.9,237.8 1344.7,233.9 1348.5,228.3 1353.2,221.4 1358.1,214.0 1362.9,206.5 1367.7,198.5 1372.7,190.0 1377.3,182.0 1381.1,175.4 1383.8,170.8 1385.6,167.6 1387.0,165.0 1388.4,162.7 1389.9,160.3 1391.3,158.4 1392.6,156.7 1393.9,155.4 1395.0,154.9 1395.9,155.0 1397.0,154.9 1398.5,153.7 1400.6,151.0 1403.0,147.3 1405.7,143.1 1408.5,139.1 1411.6,134.7 1415.1,130.1 1418.2,125.8 1420.4,122.9" fill="none" stroke="#f0a0a0" stroke-width="1.15" stroke-linejoin="round" stroke-linecap="butt" />
<polyline points="1102.5,503.8 1104.5,503.5 1107.4,503.0 1110.6,502.3 1113.4,501.3 1115.8,500.0 1118.1,498.5 1120.3,496.8 1122.6,494.9 1124.8,492.9 1127.1,490.7 1129.4,488.4 1131.7,486.2 1134.0,484.1 1136.2,482.1 1138.5,480.0 1140.8,477.9 1143.1,475.7 1145.3,473.5 1147.6,471.2 1149.9,468.7 1152.2,466.2 1154.6,463.5 1156.9,460.8 1159.0,458.1 1160.9,455.3 1162.6,452.5 1164.1,449.8 1165.3,447.5 1166.1,445.9 1166.6,444.9 1167.1,443.8 1168.1,441.9 1170.0,438.9 1172.3,435.2 1174.8,431.2 1177.3,427.5 1179.5,424.2 1181.8,421.1 1184.1,418.0 1186.4,414.7 1188.6,411.3 1190.8,407.8 1193.1,404.1 1195.5,400.0 1198.1,395.4 1200.8,390.3 1203.6,385.1 1206.4,380.0 1209.2,375.4 1211.9,371.0 1214.8,366.4 1218.2,361.1 1222.3,354.8 1226.9,347.7 1231.7,340.5 1236.5,333.9 1241.0,328.0 1245.6,322.4 1250.1,317.1 1254.7,312.0 1259.2,307.1 1263.8,302.5 1268.4,297.8 1272.9,292.8 1277.5,287.3 1282.0,281.5 1286.6,275.7 1291.2,270.1 1295.7,265.0 1300.3,260.2 1304.9,255.4 1309.4,250.1 1313.7,244.1 1317.9,237.8 1322.1,231.2 1326.4,224.8 1331.1,218.1 1336.1,211.2 1340.7,204.7 1344.7,199.2 1347.6,195.2 1349.8,192.2 1351.7,189.5 1353.8,186.5 1356.1,183.1 1358.3,179.6 1360.6,175.9 1362.9,171.8 1365.2,167.2 1367.5,162.1 1369.7,156.9 1372.0,151.8 1374.4,146.6 1376.8,141.1 1379.1,136.0 1381.1,131.8 1382.9,128.6 1384.4,126.1 1385.7,124.2 1386.6,122.9" fill="none" stroke="#adc0e8" stroke-width="1.15" stroke-linejoin="round" stroke-linecap="butt" />
<polyline points="1102.5,497.5 1104.5,495.7 1107.4,493.3 1110.6,490.4 1113.4,487.5 1115.8,484.5 1118.1,481.2 1120.3,478.0 1122.6,474.7 1124.8,471.5 1127.1,468.4 1129.4,465.2 1131.7,461.9 1134.0,458.6 1136.2,455.2 1138.5,451.7 1140.8,448.3 1143.1,444.9 1145.3,441.5 1147.6,438.1 1149.9,434.7 1152.2,431.3 1154.5,427.9 1156.7,424.5 1159.0,421.1 1161.3,417.6 1163.6,414.1 1165.9,410.7 1168.1,407.3 1170.4,404.1 1172.6,401.0 1174.8,397.9 1177.3,394.5 1179.8,390.9 1182.6,387.1 1185.4,383.2 1188.2,379.2 1190.9,375.2 1193.6,371.3 1196.6,367.0 1200.0,362.0 1204.1,355.9 1208.7,349.2 1213.5,342.2 1218.2,335.6 1222.8,329.4 1227.3,323.4 1231.9,317.6 1236.5,312.0 1241.0,306.6 1245.6,301.5 1250.1,296.6 1254.7,292.0 1259.2,287.6 1263.8,283.6 1268.4,279.6 1272.9,275.6 1277.6,271.5 1282.4,267.3 1287.0,263.2 1291.2,259.2 1294.7,255.5 1297.7,252.0 1300.6,248.5 1303.7,245.0 1307.2,241.2 1310.8,237.3 1314.3,233.6 1317.3,230.3 1319.9,227.5 1322.2,225.0 1324.1,222.9 1325.6,221.2 1326.5,219.9 1327.0,219.1 1327.2,218.6 1327.4,218.2 1327.6,222.9 1327.7,318.6 1328.8,322.8 1329.1,504.7 1344.9,505.1" fill="none" stroke="#179054" stroke-width="1.6" stroke-linejoin="round" stroke-linecap="butt" />
<polyline points="1102.5,501.3 1104.5,500.2 1107.4,498.7 1110.6,497.1 1113.4,495.8 1115.8,494.8 1118.1,493.9 1120.3,493.1 1122.6,492.1 1124.8,491.0 1127.1,489.7 1129.4,488.2 1131.7,486.6 1134.0,484.7 1136.2,482.7 1138.5,480.5 1140.8,478.3 1143.1,476.2 1145.3,474.0 1147.6,471.7 1149.9,469.4 1152.2,466.9 1154.5,464.3 1156.7,461.7 1159.0,459.2 1161.4,456.6 1163.9,453.9 1166.2,451.4 1168.1,449.2 1169.4,447.7 1170.1,446.8 1171.0,445.7 1172.6,443.4 1175.3,439.8 1178.6,435.4 1182.4,430.2 1186.4,424.7 1190.8,418.4 1195.7,411.4 1200.5,404.4 1204.6,398.1 1207.8,393.0 1210.5,388.5 1212.9,384.3 1215.5,380.0 1218.5,375.6 1221.6,371.3 1224.6,367.0 1227.3,363.0 1229.6,359.7 1231.5,357.0 1233.6,353.8 1236.5,349.4 1240.4,343.2 1245.0,335.8 1249.9,327.9 1254.7,320.3 1259.5,312.7 1264.4,305.0 1269.0,297.6 1272.9,291.1 1276.1,285.5 1278.8,280.5 1280.9,276.4 1282.4,273.5 1282.7,278.2 1283.1,437.7 1283.5,441.9 1283.8,505.8" fill="none" stroke="#9038c8" stroke-width="1.6" stroke-linejoin="round" stroke-linecap="butt" />
<polyline points="1102.5,500.2 1103.7,499.7 1105.3,499.0 1107.4,498.0 1109.8,496.6 1112.7,494.6 1116.1,492.2 1119.5,489.7 1122.6,487.5 1125.1,485.7 1127.3,484.1 1129.5,482.7 1131.7,481.1 1134.0,479.4 1136.2,477.6 1138.5,475.8 1140.8,473.8 1143.1,471.7 1145.3,469.4 1147.6,467.0 1149.9,464.7 1152.2,462.4 1154.6,460.1 1156.9,457.8 1159.0,455.6 1160.9,453.2 1162.6,450.7 1164.1,448.5 1165.3,447.0 1166.3,446.7 1166.9,447.2 1167.4,447.8 1168.1,447.9 1168.9,447.6 1169.7,447.1 1170.8,446.0 1172.6,443.9 1175.5,440.2 1179.2,435.3 1183.0,430.1 1186.4,425.6 1189.0,422.0 1191.2,418.8 1193.3,415.9 1195.5,412.8 1197.7,409.8 1199.8,406.9 1202.1,403.7 1204.6,400.0 1207.6,395.4 1210.9,390.2 1214.2,384.9 1217.3,380.0 1220.0,375.9 1222.5,372.0 1224.9,368.4 1227.3,364.9 1229.5,362.1 1231.4,359.8 1233.6,357.1 1236.5,353.0 1240.5,346.8 1245.5,339.2 1250.4,331.4 1254.7,324.7 1258.1,319.4 1261.0,314.8 1263.5,311.1 1265.6,308.4 1267.1,307.4 1268.0,307.9 1268.9,308.5 1270.1,307.9 1272.0,305.6 1274.2,302.3 1276.4,298.7 1278.4,295.6 1279.9,293.1 1281.2,290.9 1282.4,288.7 1283.9,286.5 1285.3,284.3 1286.7,282.3 1288.5,279.9 1291.2,276.5 1295.2,271.3 1300.2,265.0 1305.3,258.7 1309.4,253.7 1312.1,250.5 1313.9,248.5 1315.5,246.9 1317.3,245.0 1319.3,243.0 1321.2,241.1 1323.5,238.9 1326.4,235.6 1330.4,231.1 1335.0,225.6 1339.9,219.6 1344.7,213.7 1349.4,207.6 1354.4,201.2 1359.0,195.1 1362.9,190.1 1365.8,186.5 1368.0,184.0 1370.0,181.8 1372.0,179.3 1374.4,176.0 1377.0,172.4 1379.3,169.1 1381.1,166.5 1382.3,164.9 1383.1,164.0 1383.6,163.5 1383.9,163.1" fill="none" stroke="#a07a10" stroke-width="2.3" stroke-linejoin="round" stroke-linecap="butt" />
<polyline points="1102.5,500.2 1103.7,499.7 1105.3,499.0 1107.4,498.0 1109.8,496.6 1112.7,494.6 1116.1,492.2 1119.5,489.7 1122.6,487.5 1125.1,485.7 1127.3,484.1 1129.5,482.7 1131.7,481.1 1134.0,479.4 1136.2,477.6 1138.5,475.8 1140.8,473.8 1143.1,471.7 1145.3,469.4 1147.6,467.0 1149.9,464.7 1152.2,462.4 1154.6,460.1 1156.9,457.8 1159.0,455.6 1160.9,453.2 1162.6,450.7 1164.1,448.5 1165.3,447.0 1166.3,446.7 1166.9,447.2 1167.4,447.8 1168.1,447.9 1168.9,447.6 1169.7,447.1 1170.8,446.0 1172.6,443.9 1175.5,440.2 1179.2,435.3 1183.0,430.1 1186.4,425.6 1189.0,422.0 1191.2,418.8 1193.3,415.9 1195.5,412.8 1197.7,409.8 1199.8,406.9 1202.1,403.7 1204.6,400.0 1207.6,395.4 1210.9,390.2 1214.2,384.9 1217.3,380.0 1220.0,375.9 1222.5,372.0 1224.9,368.4 1227.3,364.9 1229.5,362.1 1231.4,359.8 1233.6,357.1 1236.5,353.0 1240.5,346.8 1245.5,339.2 1250.4,331.4 1254.7,324.7 1258.1,319.4 1261.0,314.8 1263.5,311.1 1265.6,308.4 1267.1,307.4 1268.0,307.9 1268.9,308.5 1270.1,307.9 1272.0,305.6 1274.2,302.3 1276.4,298.7 1278.4,295.6 1279.9,293.1 1281.2,290.9 1282.4,288.7 1283.9,286.5 1285.3,284.3 1286.7,282.3 1288.5,279.9 1291.2,276.5 1295.2,271.3 1300.2,265.0 1305.3,258.7 1309.4,253.7 1312.1,250.5 1313.9,248.5 1315.5,246.9 1317.3,245.0 1319.3,243.0 1321.2,241.1 1323.5,238.9 1326.4,235.6 1330.4,231.1 1335.0,225.6 1339.9,219.6 1344.7,213.7 1349.4,207.6 1354.4,201.2 1359.0,195.1 1362.9,190.1 1365.8,186.5 1368.0,184.0 1370.0,181.8 1372.0,179.3 1374.4,176.0 1377.0,172.4 1379.3,169.1 1381.1,166.5 1382.3,164.9 1383.1,164.0 1383.6,163.5 1383.9,163.1" fill="none" stroke="#140c00" stroke-width="1.2" stroke-linejoin="round" stroke-linecap="butt" />
<polyline points="1383.9,163.1 1384.1,167.6 1384.2,505.8" fill="none" stroke="#86650e" stroke-width="1.7" stroke-linejoin="round" stroke-linecap="butt" />
<line x1="1102.50" y1="121.89" x2="1102.50" y2="506.75" stroke="#000" stroke-width="2.0" />
<line x1="1101.50" y1="505.75" x2="1532.50" y2="505.75" stroke="#000" stroke-width="2.0" />
<line x1="1095.00" y1="505.75" x2="1102.50" y2="505.75" stroke="#000" stroke-width="1.8" />
<text x="1090.80" y="510.65" font-size="15.6" font-family="'Liberation Sans', Arial, sans-serif" text-anchor="end" stroke="#000" stroke-width="0.5" textLength="8.1" lengthAdjust="spacingAndGlyphs">0</text>
<line x1="1098.50" y1="484.48" x2="1102.50" y2="484.48" stroke="#000" stroke-width="1.8" />
<line x1="1095.00" y1="463.21" x2="1102.50" y2="463.21" stroke="#000" stroke-width="1.8" />
<text x="1090.80" y="468.11" font-size="15.6" font-family="'Liberation Sans', Arial, sans-serif" text-anchor="end" stroke="#000" stroke-width="0.5" textLength="8.1" lengthAdjust="spacingAndGlyphs">2</text>
<line x1="1098.50" y1="441.94" x2="1102.50" y2="441.94" stroke="#000" stroke-width="1.8" />
<line x1="1095.00" y1="420.67" x2="1102.50" y2="420.67" stroke="#000" stroke-width="1.8" />
<text x="1090.80" y="425.57" font-size="15.6" font-family="'Liberation Sans', Arial, sans-serif" text-anchor="end" stroke="#000" stroke-width="0.5" textLength="8.1" lengthAdjust="spacingAndGlyphs">4</text>
<line x1="1098.50" y1="399.40" x2="1102.50" y2="399.40" stroke="#000" stroke-width="1.8" />
<line x1="1095.00" y1="378.13" x2="1102.50" y2="378.13" stroke="#000" stroke-width="1.8" />
<text x="1090.80" y="383.03" font-size="15.6" font-family="'Liberation Sans', Arial, sans-serif" text-anchor="end" stroke="#000" stroke-width="0.5" textLength="8.1" lengthAdjust="spacingAndGlyphs">6</text>
<line x1="1098.50" y1="356.86" x2="1102.50" y2="356.86" stroke="#000" stroke-width="1.8" />
<line x1="1095.00" y1="335.59" x2="1102.50" y2="335.59" stroke="#000" stroke-width="1.8" />
<text x="1090.80" y="340.49" font-size="15.6" font-family="'Liberation Sans', Arial, sans-serif" text-anchor="end" stroke="#000" stroke-width="0.5" textLength="8.1" lengthAdjust="spacingAndGlyphs">8</text>
<line x1="1098.50" y1="314.32" x2="1102.50" y2="314.32" stroke="#000" stroke-width="1.8" />
<line x1="1095.00" y1="293.05" x2="1102.50" y2="293.05" stroke="#000" stroke-width="1.8" />
<text x="1090.80" y="297.95" font-size="15.6" font-family="'Liberation Sans', Arial, sans-serif" text-anchor="end" stroke="#000" stroke-width="0.5" textLength="16.2" lengthAdjust="spacingAndGlyphs">10</text>
<line x1="1098.50" y1="271.78" x2="1102.50" y2="271.78" stroke="#000" stroke-width="1.8" />
<line x1="1095.00" y1="250.51" x2="1102.50" y2="250.51" stroke="#000" stroke-width="1.8" />
<text x="1090.80" y="255.41" font-size="15.6" font-family="'Liberation Sans', Arial, sans-serif" text-anchor="end" stroke="#000" stroke-width="0.5" textLength="16.2" lengthAdjust="spacingAndGlyphs">12</text>
<line x1="1098.50" y1="229.24" x2="1102.50" y2="229.24" stroke="#000" stroke-width="1.8" />
<line x1="1095.00" y1="207.97" x2="1102.50" y2="207.97" stroke="#000" stroke-width="1.8" />
<text x="1090.80" y="212.87" font-size="15.6" font-family="'Liberation Sans', Arial, sans-serif" text-anchor="end" stroke="#000" stroke-width="0.5" textLength="16.2" lengthAdjust="spacingAndGlyphs">14</text>
<line x1="1098.50" y1="186.70" x2="1102.50" y2="186.70" stroke="#000" stroke-width="1.8" />
<line x1="1095.00" y1="165.43" x2="1102.50" y2="165.43" stroke="#000" stroke-width="1.8" />
<text x="1090.80" y="170.33" font-size="15.6" font-family="'Liberation Sans', Arial, sans-serif" text-anchor="end" stroke="#000" stroke-width="0.5" textLength="16.2" lengthAdjust="spacingAndGlyphs">16</text>
<line x1="1098.50" y1="144.16" x2="1102.50" y2="144.16" stroke="#000" stroke-width="1.8" />
<line x1="1095.00" y1="122.89" x2="1102.50" y2="122.89" stroke="#000" stroke-width="1.8" />
<text x="1090.80" y="127.79" font-size="15.6" font-family="'Liberation Sans', Arial, sans-serif" text-anchor="end" stroke="#000" stroke-width="0.5" textLength="16.2" lengthAdjust="spacingAndGlyphs">18</text>
<line x1="1102.50" y1="505.75" x2="1102.50" y2="513.25" stroke="#000" stroke-width="1.8" />
<text x="1088.50" y="531.00" font-size="15.8" font-family="'Liberation Sans', Arial, sans-serif" text-anchor="start" stroke="#000" stroke-width="0.5" textLength="28" lengthAdjust="spacingAndGlyphs">0.00</text>
<line x1="1129.31" y1="505.75" x2="1129.31" y2="509.75" stroke="#000" stroke-width="1.8" />
<line x1="1156.12" y1="505.75" x2="1156.12" y2="513.25" stroke="#000" stroke-width="1.8" />
<text x="1142.12" y="531.00" font-size="15.8" font-family="'Liberation Sans', Arial, sans-serif" text-anchor="start" stroke="#000" stroke-width="0.5" textLength="28" lengthAdjust="spacingAndGlyphs">0.05</text>
<line x1="1182.94" y1="505.75" x2="1182.94" y2="509.75" stroke="#000" stroke-width="1.8" />
<line x1="1209.75" y1="505.75" x2="1209.75" y2="513.25" stroke="#000" stroke-width="1.8" />
<text x="1195.75" y="531.00" font-size="15.8" font-family="'Liberation Sans', Arial, sans-serif" text-anchor="start" stroke="#000" stroke-width="0.5" textLength="28" lengthAdjust="spacingAndGlyphs">0.10</text>
<line x1="1236.56" y1="505.75" x2="1236.56" y2="509.75" stroke="#000" stroke-width="1.8" />
<line x1="1263.38" y1="505.75" x2="1263.38" y2="513.25" stroke="#000" stroke-width="1.8" />
<text x="1249.38" y="531.00" font-size="15.8" font-family="'Liberation Sans', Arial, sans-serif" text-anchor="start" stroke="#000" stroke-width="0.5" textLength="28" lengthAdjust="spacingAndGlyphs">0.15</text>
<line x1="1290.19" y1="505.75" x2="1290.19" y2="509.75" stroke="#000" stroke-width="1.8" />
<line x1="1317.00" y1="505.75" x2="1317.00" y2="513.25" stroke="#000" stroke-width="1.8" />
<text x="1303.00" y="531.00" font-size="15.8" font-family="'Liberation Sans', Arial, sans-serif" text-anchor="start" stroke="#000" stroke-width="0.5" textLength="28" lengthAdjust="spacingAndGlyphs">0.20</text>
<line x1="1343.81" y1="505.75" x2="1343.81" y2="509.75" stroke="#000" stroke-width="1.8" />
<line x1="1370.62" y1="505.75" x2="1370.62" y2="513.25" stroke="#000" stroke-width="1.8" />
<text x="1356.62" y="531.00" font-size="15.8" font-family="'Liberation Sans', Arial, sans-serif" text-anchor="start" stroke="#000" stroke-width="0.5" textLength="28" lengthAdjust="spacingAndGlyphs">0.25</text>
<line x1="1397.44" y1="505.75" x2="1397.44" y2="509.75" stroke="#000" stroke-width="1.8" />
<line x1="1424.25" y1="505.75" x2="1424.25" y2="513.25" stroke="#000" stroke-width="1.8" />
<text x="1410.25" y="531.00" font-size="15.8" font-family="'Liberation Sans', Arial, sans-serif" text-anchor="start" stroke="#000" stroke-width="0.5" textLength="28" lengthAdjust="spacingAndGlyphs">0.30</text>
<line x1="1451.06" y1="505.75" x2="1451.06" y2="509.75" stroke="#000" stroke-width="1.8" />
<line x1="1477.88" y1="505.75" x2="1477.88" y2="513.25" stroke="#000" stroke-width="1.8" />
<text x="1463.88" y="531.00" font-size="15.8" font-family="'Liberation Sans', Arial, sans-serif" text-anchor="start" stroke="#000" stroke-width="0.5" textLength="28" lengthAdjust="spacingAndGlyphs">0.35</text>
<line x1="1504.69" y1="505.75" x2="1504.69" y2="509.75" stroke="#000" stroke-width="1.8" />
<line x1="1531.50" y1="505.75" x2="1531.50" y2="513.25" stroke="#000" stroke-width="1.8" />
<text x="1517.50" y="531.00" font-size="15.8" font-family="'Liberation Sans', Arial, sans-serif" text-anchor="start" stroke="#000" stroke-width="0.5" textLength="28" lengthAdjust="spacingAndGlyphs">0.40</text>
<text x="1196.50" y="567.00" font-size="25" font-family="'Liberation Serif', 'Times New Roman', serif" text-anchor="start" textLength="240.5" lengthAdjust="spacingAndGlyphs" stroke="#000" stroke-width="0.25">Mid-span deflection (mm)</text>
<text transform="translate(1053.7,413) rotate(-90)" font-size="23.4" font-family="'Liberation Serif', 'Times New Roman', serif" textLength="218" lengthAdjust="spacingAndGlyphs">Flexural stress (MPa)</text></g>
<g id="annot"><line x1="970.70" y1="52.00" x2="1632.05" y2="52.00" stroke="#b01212" stroke-width="2.6" stroke-dasharray="15.000 14.943" stroke-dashoffset="6.200"/>
<line x1="970.70" y1="606.00" x2="1632.05" y2="606.00" stroke="#b01212" stroke-width="2.6" stroke-dasharray="15.000 14.943" stroke-dashoffset="6.200"/>
<line x1="972.00" y1="50.70" x2="972.00" y2="607.30" stroke="#b01212" stroke-width="2.6" stroke-dasharray="15.000 15.778" stroke-dashoffset="6.200"/>
<line x1="1630.75" y1="50.70" x2="1630.75" y2="607.30" stroke="#b01212" stroke-width="2.6" stroke-dasharray="15.000 15.778" stroke-dashoffset="6.200"/>
<line x1="50.70" y1="417.20" x2="178.30" y2="417.20" stroke="#b01212" stroke-width="2.6" stroke-dasharray="15.000 16.250" stroke-dashoffset="6.200"/>
<line x1="50.70" y1="683.70" x2="178.30" y2="683.70" stroke="#b01212" stroke-width="2.6" stroke-dasharray="15.000 16.250" stroke-dashoffset="6.200"/>
<line x1="52.00" y1="415.90" x2="52.00" y2="685.00" stroke="#b01212" stroke-width="2.6" stroke-dasharray="15.000 14.611" stroke-dashoffset="6.200"/>
<line x1="177.00" y1="415.90" x2="177.00" y2="685.00" stroke="#b01212" stroke-width="2.6" stroke-dasharray="15.000 14.611" stroke-dashoffset="6.200"/>
<line x1="962.40" y1="363.40" x2="195.00" y2="564.40" stroke="#b01212" stroke-width="2.6" stroke-dasharray="15.3 15.35" stroke-dashoffset="8"/>
<polygon points="178,569.2 195,553.2 192.8,565 201.1,576.3" fill="#e02a08" stroke="#c01810" stroke-width="1" stroke-linejoin="round"/></g>
</svg>
</body>
</html>
